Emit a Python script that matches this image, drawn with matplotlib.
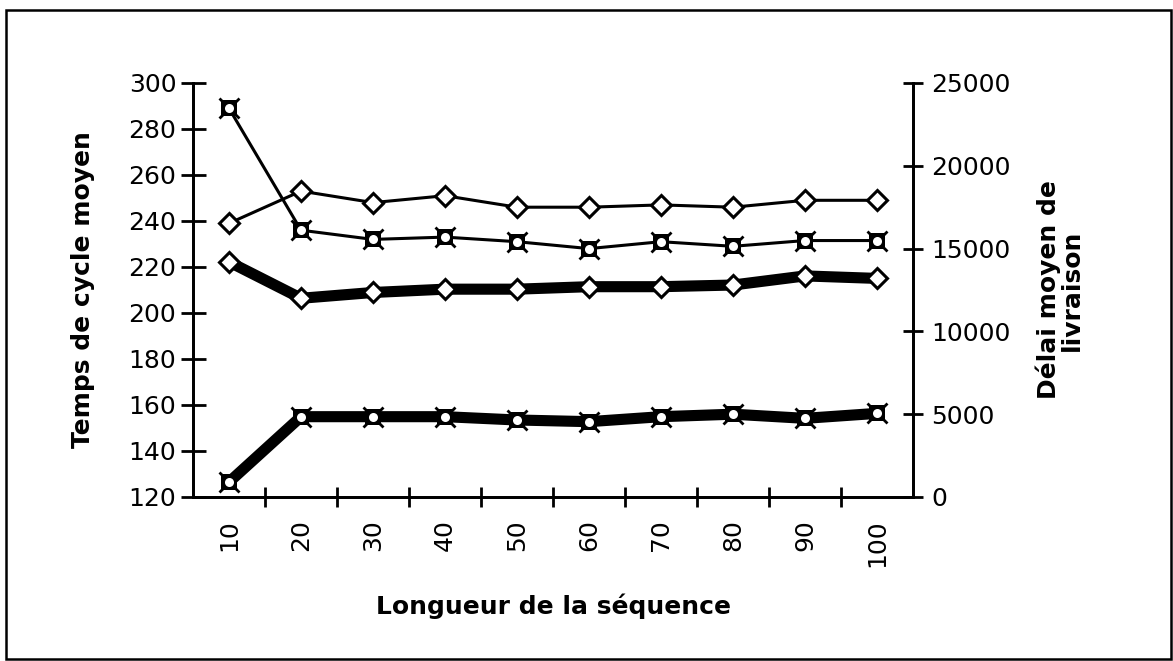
import numpy as np
import matplotlib
matplotlib.use("Agg")
import matplotlib.pyplot as plt
from matplotlib.patches import Rectangle

# data
longueurs = ["10", "20", "30", "40", "50", "60", "70", "80", "90", "100"]
cycle_losange = [239, 253, 248, 251, 246, 246, 247, 246, 249, 249]
cycle_symbole = [289, 236, 232, 233, 231, 228, 231, 229, 231.5, 231.5]
delai_losange = [14200, 12000, 12350, 12550, 12550, 12700, 12700, 12800, 13350, 13200]
delai_symbole = [900, 4850, 4850, 4850, 4650, 4550, 4850, 5000, 4750, 5050]

plt.rcParams['font.family'] = ['DejaVu Sans']

fig = plt.figure(figsize=(11.73, 6.61), dpi=100)
fig.patches.append(Rectangle((6 / 1173, 2 / 661), 1165 / 1173, 649 / 661,
                             transform=fig.transFigure, fill=False,
                             edgecolor='black', linewidth=1.8))

ax = fig.add_axes([193 / 1173, 1 - 497 / 661, 720 / 1173, 414 / 661])
ax2 = ax.twinx()

x = np.arange(len(longueurs))


def draw(axis, vals, marker, lw):
    axis.plot(x, vals, color='black', linewidth=lw, zorder=2)
    if marker == 'd':
        axis.plot(x, vals, linestyle='none', marker='D', markersize=10,
                  markerfacecolor='white', markeredgecolor='black',
                  markeredgewidth=2.2, zorder=3)
    else:
        axis.plot(x, vals, linestyle='none', marker='x', markersize=14,
                  color='black', markeredgewidth=2, zorder=3)
        axis.plot(x, vals, linestyle='none', marker='s', markersize=11,
                  markerfacecolor='black', markeredgewidth=0, zorder=4)
        axis.plot(x, vals, linestyle='none', marker='o', markersize=6.5,
                  markerfacecolor='white', markeredgewidth=0, zorder=5)


draw(ax, cycle_losange, 'd', 2.2)
draw(ax, cycle_symbole, 'c', 2.2)
draw(ax2, delai_losange, 'd', 8)
draw(ax2, delai_symbole, 'c', 8)

ax.set_xlim(-0.5, 9.5)
ax.set_ylim(120, 300)
ax2.set_ylim(0, 25000)
ax.set_yticks(np.arange(120, 301, 20))
ax2.set_yticks(np.arange(0, 25001, 5000))

ax.set_xticks(np.arange(0.5, 9, 1))
ax.set_xticklabels([])
ax.set_xticks(x, minor=True)
ax.set_xticklabels(longueurs, minor=True, rotation=90, fontsize=18)
ax.tick_params(axis='x', which='minor', length=0, pad=16)
ax.tick_params(axis='x', which='major', direction='inout', length=14, width=2)
ax.tick_params(axis='y', direction='inout', length=18, width=2, labelsize=18, pad=3)
ax2.tick_params(axis='y', direction='inout', length=14, width=2, labelsize=18, pad=6)

for a in (ax, ax2):
    a.spines['top'].set_visible(False)
    for s in ('left', 'right', 'bottom'):
        a.spines[s].set_linewidth(2)

ax.set_xlabel("Longueur de la séquence", fontsize=18, fontweight='bold', labelpad=19)
ax.set_ylabel("Temps de cycle moyen", fontsize=18, fontweight='bold', labelpad=24)
ax2.set_ylabel("Délai moyen de\nlivraison", fontsize=18, fontweight='bold',
               labelpad=18, rotation=90, linespacing=0.95)

fig.savefig("out.png", dpi=100)
